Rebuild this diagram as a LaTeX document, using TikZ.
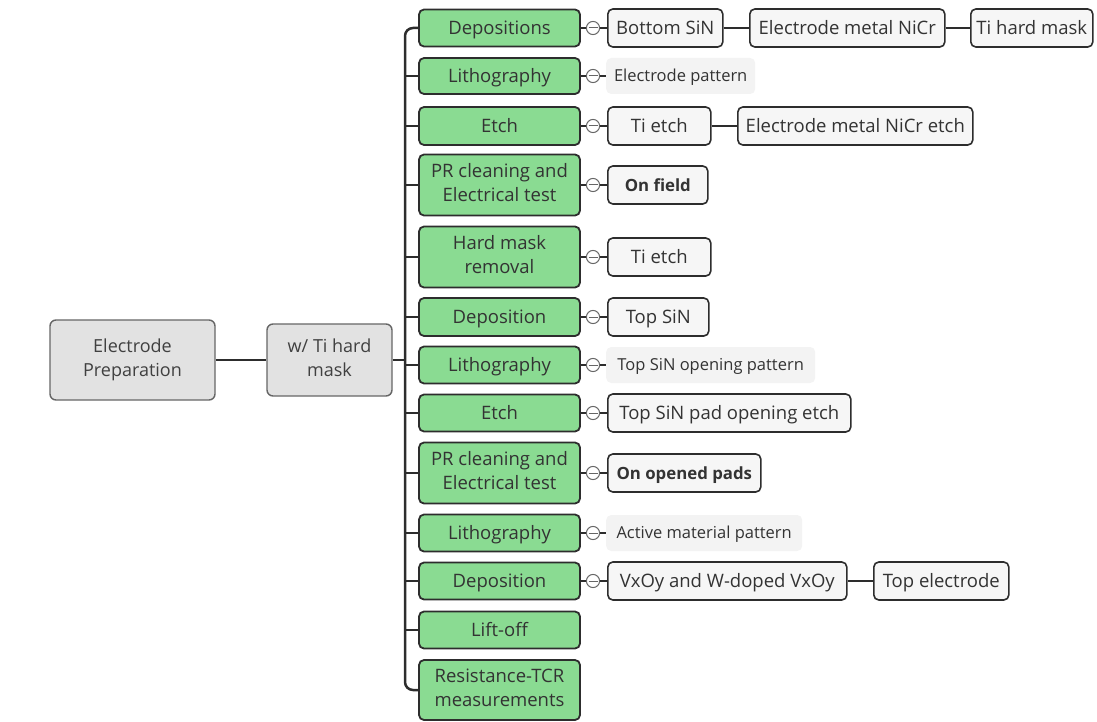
\documentclass[tikz,border=0pt]{standalone}
\usepackage{fontspec}
\setmainfont{Open Sans}
\definecolor{stepgreen}{RGB}{138,219,146}
\definecolor{kidfill}{RGB}{246,246,246}
\definecolor{plainfill}{RGB}{243,243,243}
\definecolor{rootfill}{RGB}{226,226,226}
\definecolor{ink}{RGB}{45,45,45}
\newcommand{\mystrut}{\rule[-0.3em]{0pt}{1.32em}}
\begin{document}
\begin{tikzpicture}[x=1pt,y=-1pt,
  every node/.append style={execute at begin node=\mystrut, execute at end node=\mystrut},
  rootbox/.style={draw=black!60, fill=rootfill, rounded corners=6, line width=1.4, align=center,
     font=\fontsize{18}{24}\selectfont, text=black!75, inner sep=0},
  stepbox/.style={draw=ink, fill=stepgreen, rounded corners=5, line width=1.8, align=center,
     font=\fontsize{18.5}{24}\selectfont, text=black!80, inner sep=0, minimum width=161},
  kidbox/.style={draw=ink, fill=kidfill, rounded corners=5, line width=1.6, align=center,
     font=\fontsize{18.5}{24}\selectfont, text=black!80, inner sep=0, minimum height=38, anchor=west},
  plainbox/.style={fill=plainfill, rounded corners=5, align=center,
     font=\fontsize{16.5}{20}\selectfont, text=black!80, inner sep=0, minimum height=36, anchor=west},
  boldkid/.style={font=\fontsize{16.8}{22}\selectfont\bfseries},
  fold/.style={circle, draw=black!60, fill=white, line width=1, minimum size=13, inner sep=0,
     execute at begin node={}, execute at end node={},
     path picture={\draw[black!60,line width=1] ([xshift=-4.5]path picture bounding box.center) -- ([xshift=4.5]path picture bounding box.center);}},
  link/.style={draw=ink, line width=2.5},
  thin link/.style={draw=ink, line width=1.6}]
\useasboundingbox (0,0) rectangle (1097,722);

% root nodes
\node[rootbox, minimum width=165, minimum height=80] (root) at (132.5,360) {Electrode\\Preparation};
\node[rootbox, minimum width=125, minimum height=72] (mask) at (329.5,360) {w/ Ti hard\\mask};
\coordinate (sp) at (405,0);

% green steps
\node[stepbox, minimum height=37] (g1) at (499.5,28) {Depositions};
\node[stepbox, minimum height=36] (g2) at (499.5,76) {Lithography};
\node[stepbox, minimum height=38] (g3) at (499.5,126) {Etch};
\node[stepbox, minimum height=61] (g4) at (499.5,185) {PR cleaning and\\Electrical test};
\node[stepbox, minimum height=61] (g5) at (499.5,257) {Hard mask\\removal};
\node[stepbox, minimum height=38] (g6) at (499.5,317) {Deposition};
\node[stepbox, minimum height=37] (g7) at (499.5,365) {Lithography};
\node[stepbox, minimum height=37] (g8) at (499.5,413) {Etch};
\node[stepbox, minimum height=61] (g9) at (499.5,473) {PR cleaning and\\Electrical test};
\node[stepbox, minimum height=37] (g10) at (499.5,533) {Lithography};
\node[stepbox, minimum height=37] (g11) at (499.5,581) {Deposition};
\node[stepbox, minimum height=37] (g12) at (499.5,630) {Lift-off};
\node[stepbox, minimum height=60] (g13) at (499.5,690) {Resistance-TCR\\measurements};

% fold markers
\foreach \i/\y in {1/28,2/76,3/126,4/185,5/257,6/317,7/365,8/413,9/473,10/533,11/581}
  \node[fold] (c\i) at (593,\y) {};

% children
\node[kidbox, minimum width=115] (k1a) at (607,28) {Bottom SiN};
\node[kidbox, minimum width=195] (k1b) at (749,28) {Electrode metal NiCr};
\node[kidbox, minimum width=122] (k1c) at (970,28) {Ti hard mask};
\node[plainbox, minimum width=149] (k2) at (606,76) {Electrode pattern};
\node[kidbox, minimum width=103] (k3a) at (607,126) {Ti etch};
\node[kidbox, minimum width=235] (k3b) at (737,126) {Electrode metal NiCr etch};
\node[kidbox, boldkid, minimum width=100] (k4) at (607,185) {On field};
\node[kidbox, minimum width=103] (k5) at (607,257) {Ti etch};
\node[kidbox, minimum width=101] (k6) at (607,317) {Top SiN};
\node[plainbox, minimum width=209] (k7) at (606,365) {Top SiN opening pattern};
\node[kidbox, minimum width=243] (k8) at (607,413) {Top SiN pad opening etch};
\node[kidbox, boldkid, minimum width=153] (k9) at (607,473) {On opened pads};
\node[plainbox, minimum width=196] (k10) at (606,533) {Active material pattern};
\node[kidbox, minimum width=239] (k11a) at (607,581) {VxOy and W-doped VxOy};
\node[kidbox, minimum width=135] (k11b) at (873,581) {Top electrode};

% connectors
\draw[thin link] (root.east) -- (mask.west);
\draw[link] (mask.east) -- (sp |- mask.east);
\draw[link, rounded corners=8] (g1.west) -- (sp |- g1.west) -- (sp |- g13.west) -- (g13.west);
\foreach \i in {2,...,12}
  \draw[link] (sp |- g\i.west) -- (g\i.west);

\foreach \i/\k in {1/k1a,2/k2,3/k3a,4/k4,5/k5,6/k6,7/k7,8/k8,9/k9,10/k10,11/k11a}
  \draw[link] (g\i.east) -- (c\i.west) (c\i.east) -- (\k.west);

\draw[link] (k1a.east) -- (k1b.west);
\draw[link] (k1b.east) -- (k1c.west);
\draw[link] (k3a.east) -- (k3b.west);
\draw[link] (k11a.east) -- (k11b.west);
\end{tikzpicture}
\end{document}
